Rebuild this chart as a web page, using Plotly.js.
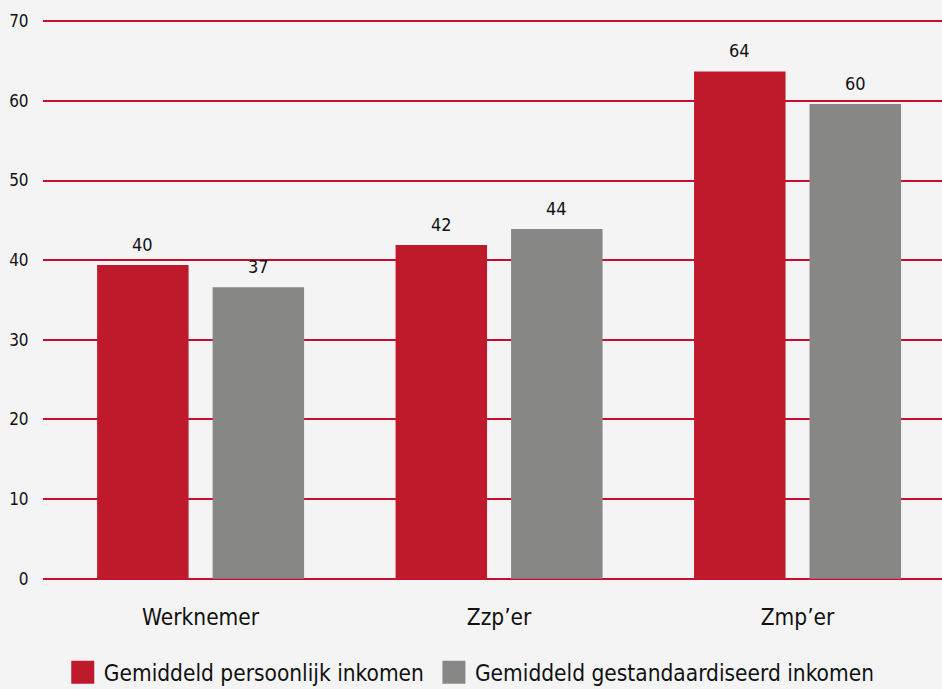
<!DOCTYPE html>
<html>
<head>
<meta charset="utf-8">
<script src="https://cdn.plot.ly/plotly-3.0.1.min.js"></script>
<style>html,body{margin:0;padding:0;background:#f4f4f4;}#chart{width:942px;height:689px;}</style>
</head>
<body>
<div id="chart"></div>
<script>
const categories = ['Werknemer', 'Zzp\u2019er', 'Zmp\u2019er'];
const persoonlijk = [39.4, 41.9, 63.7];
const persoonlijkLabels = ['40', '42', '64'];
const gestandaardiseerd = [36.6, 43.9, 59.6];
const gestandaardiseerdLabels = ['37', '44', '60'];
const seriesNames = ['Gemiddeld persoonlijk inkomen', 'Gemiddeld gestandaardiseerd inkomen'];
const yTicks = [0, 10, 20, 30, 40, 50, 60, 70];

const FONT = '"Liberation Sans Narrow", "DejaVu Sans Condensed", "Open Sans", sans-serif';
const RED = '#be1a2b';
const GREY = '#878786';
const BAR_OFFSET = 57.75; // half a bar slot in px

const traces = [
  {type: 'bar', name: seriesNames[0], x: categories, y: persoonlijk,
   marker: {color: RED}, hoverinfo: 'none'},
  {type: 'bar', name: seriesNames[1], x: categories, y: gestandaardiseerd,
   marker: {color: GREY}, hoverinfo: 'none'}
];

const annotations = [];
categories.forEach(function (c, i) {
  annotations.push({x: c, y: persoonlijk[i], text: persoonlijkLabels[i], xref: 'x', yref: 'y',
    xshift: -BAR_OFFSET, yshift: 8, yanchor: 'bottom', showarrow: false,
    font: {family: FONT, size: 18, color: '#111'}});
  annotations.push({x: c, y: gestandaardiseerd[i], text: gestandaardiseerdLabels[i], xref: 'x', yref: 'y',
    xshift: BAR_OFFSET, yshift: 8, yanchor: 'bottom', showarrow: false,
    font: {family: FONT, size: 18, color: '#111'}});
});

const layout = {
  width: 942, height: 689,
  paper_bgcolor: '#f4f4f4', plot_bgcolor: '#f4f4f4',
  margin: {l: 43, r: 0, t: 20, b: 109, autoexpand: false},
  barmode: 'group', bargap: 0.226, bargroupgap: 0.208,
  font: {family: FONT, color: '#111'},
  showlegend: true,
  annotations: annotations,
  legend: {orientation: 'h', x: 0.022, xanchor: 'left', y: -0.127, yanchor: 'top',
           font: {family: FONT, size: 22.5, color: '#111'}, bgcolor: 'rgba(0,0,0,0)',
           itemwidth: 30, traceorder: 'normal'},
  xaxis: {type: 'category', range: [-0.528, 2.484], showgrid: false, zeroline: false, showline: false,
          ticks: 'outside', ticklen: 17, tickcolor: 'rgba(0,0,0,0)',
          tickfont: {family: FONT, size: 22.5, color: '#111'}, fixedrange: true},
  yaxis: {range: [-0.15, 70.15], tickvals: yTicks, showgrid: true, gridcolor: '#c8102e', gridwidth: 2,
          zeroline: true, zerolinecolor: '#c8102e', zerolinewidth: 2, showline: false,
          ticks: 'outside', ticklen: 10, tickcolor: 'rgba(0,0,0,0)',
          tickfont: {family: FONT, size: 17, color: '#111'}, fixedrange: true}
};

Plotly.newPlot('chart', traces, layout, {staticPlot: true}).then(function () {
  document.querySelectorAll('.legend .legendpoints path').forEach(function (p) {
    p.setAttribute('d', 'M11.5,11.5H-11.5V-11.5H11.5Z');
  });
  var items = document.querySelectorAll('.legend .traces');
  items.forEach(function (t, i) {
    var txt = t.querySelector('text.legendtext');
    if (txt) txt.setAttribute('x', 41);
    if (i === 1) {
      var tr = t.getAttribute('transform') || '';
      var m = tr.match(/translate\(\s*([-\d.]+)[ ,]+([-\d.]+)\s*\)/);
      if (m) t.setAttribute('transform', 'translate(' + (parseFloat(m[1]) + 6) + ',' + m[2] + ')');
    }
  });
});
</script>
</body>
</html>
